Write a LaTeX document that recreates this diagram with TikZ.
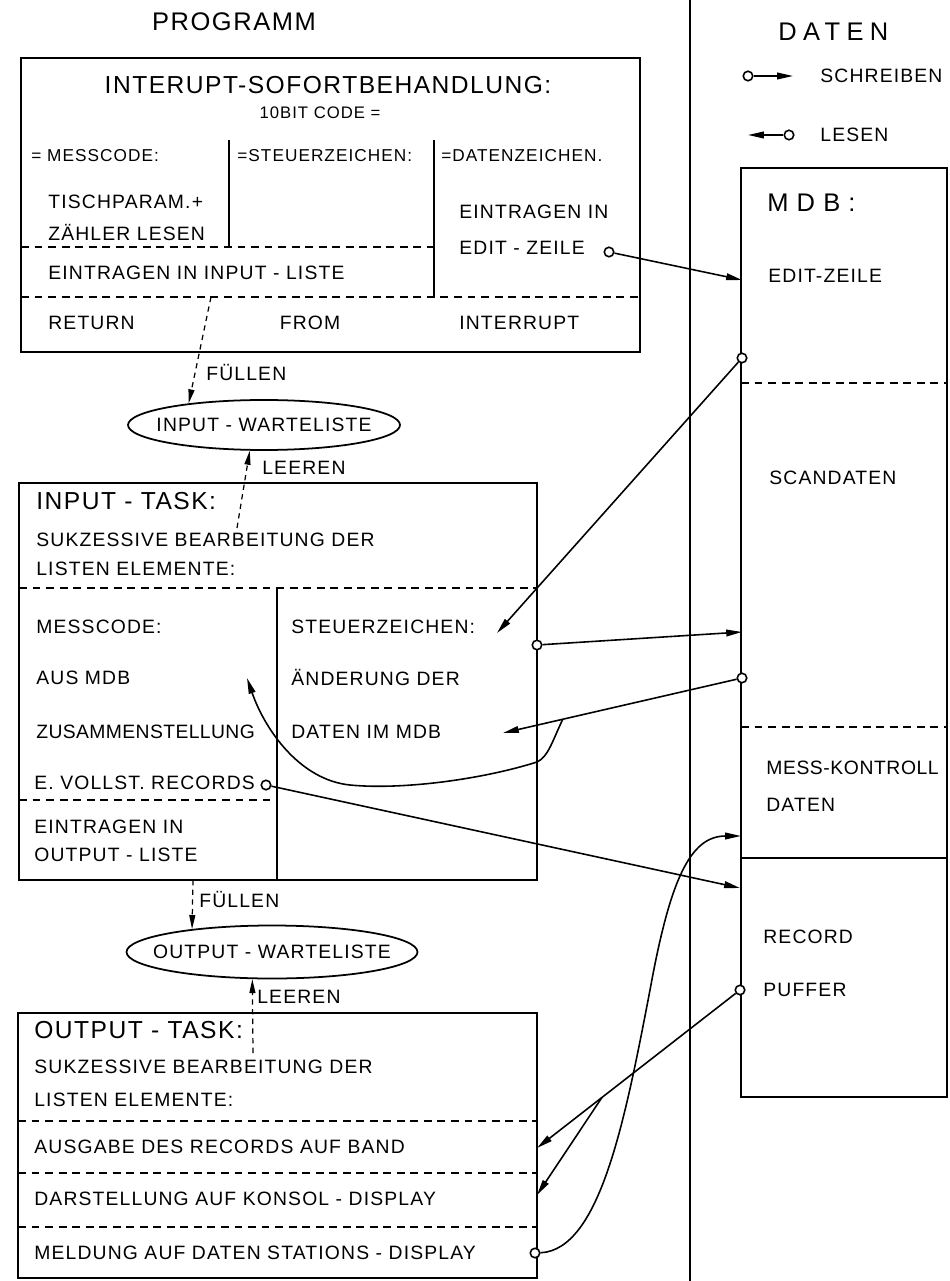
\documentclass[tikz,border=0pt]{standalone}
\usepackage{fontspec}
\setmainfont{Liberation Sans}[LetterSpace=6]
\usetikzlibrary{arrows.meta,calc,shapes}

\begin{document}
\begin{tikzpicture}[x=0.2mm,y=-0.2mm,
    every node/.style={inner sep=0pt},
    txt/.style={anchor=west,font=\fontsize{11}{13}\selectfont},
    txts/.style={anchor=west,font=\fontsize{9.8}{11}\selectfont},
    head/.style={anchor=west,font=\fontsize{14}{16}\selectfont},
    box/.style={line width=1.3pt},
    cut/.style={line width=1pt,dash pattern=on 4.5pt off 3.2pt},
    port/.style={circle,draw,fill=white,line width=0.9pt,minimum size=1.9mm},
    wire/.style={line width=0.9pt,-{Triangle[length=9pt,width=3.8pt]}},
    flow/.style={line width=0.7pt,dash pattern=on 3pt off 2.5pt,-{Triangle[length=8pt,width=3.4pt]}},
    queue/.style={ellipse,draw,line width=1pt}
  ]
    \useasboundingbox (0,0) rectangle (950,1281);
    \draw[line width=1pt] (690,0) -- (690,1281);

    \node[head,anchor=center,font=\fontsize{14.5}{16}\selectfont] (prog) at (234,22) {PROGRAMM};
    \node[head,font=\fontsize{14.5}{16}\selectfont\addfontfeatures{LetterSpace=25}] (daten) at (778,32) {DATEN};

    % legend
    \node[port] (wleg) at (748,76) {};
    \coordinate (wlegE) at (793,76);
    \node[txt] (schr) at (820,76) {SCHREIBEN};
    \node[port] (rleg) at (789,135) {};
    \coordinate (rlegE) at (748,135);
    \node[txt] (les) at (820,135) {LESEN};
    \draw[wire] (wleg) -- (wlegE);
    \draw[wire] (rleg) -- (rlegE);

    % interrupt
    \draw[box] (21,58) rectangle (640,352);
    \draw[box] (229,140) -- (229,247) (434,140) -- (434,297);
    \draw[cut] (21,247) -- (434,247) (21,297) -- (640,297);
    \node[head,anchor=center] (isb) at (328,85) {INTERUPT-SOFORTBEHANDLUNG:};
    \node[anchor=center,font=\fontsize{9.5}{11}\selectfont] (bit) at (320,113) {10BIT CODE =};
    \node[txts] (ms) at (31,156) {= MESSCODE:};
    \node[txts] (sz) at (237,156) {=STEUERZEICHEN:};
    \node[txts] (dz) at (441,156) {=DATENZEICHEN.};
    \node[txt] (tp) at (48,202) {TISCHPARAM.+};
    \node[txt] (zl) at (48,233) {ZÄHLER LESEN};
    \node[txt] (ei) at (459,212) {EINTRAGEN IN};
    \node[txt] (ez) at (459,248) {EDIT - ZEILE};
    \node[txt] (eil) at (48,273) {EINTRAGEN IN INPUT - LISTE};
    \node[txt] (ret) at (48,323) {RETURN};
    \node[txt,anchor=center] (from) at (310,323) {FROM};
    \node[txt] (intr) at (459,323) {INTERRUPT};

    % mdb
    \draw[box] (741,168) rectangle (947,1097);
    \draw[cut] (741,383) -- (947,383) (741,727) -- (947,727);
    \draw[box] (741,858) -- (947,858);
    \node[head,font=\fontsize{14.5}{16}\selectfont\addfontfeatures{LetterSpace=32}] (mdb) at (767,203) {MDB:};
    \node[txt] (mez) at (768,276) {EDIT-ZEILE};
    \node[txt] (scan) at (769,478) {SCANDATEN};
    \node[txt,font=\fontsize{11}{13}\selectfont\addfontfeatures{LetterSpace=3}] (mk) at (766,768) {MESS-KONTROLL};
    \node[txt] (mkd) at (766,805) {DATEN};
    \node[txt] (rec) at (763,937) {RECORD};
    \node[txt] (puf) at (763,990) {PUFFER};

    % input task
    \draw[box] (19,483) rectangle (537,880);
    \draw[cut] (19,588) -- (537,588) (19,800) -- (277,800);
    \draw[box] (277,588) -- (277,880);
    \node[head] (it) at (36,501) {INPUT - TASK:};
    \node[txt] (it1) at (36,540) {SUKZESSIVE BEARBEITUNG DER};
    \node[txt] (it2) at (36,569) {LISTEN ELEMENTE:};
    \node[txt] (im1) at (36,627) {MESSCODE:};
    \node[txt] (im2) at (36,678) {AUS MDB};
    \node[txt,font=\fontsize{11}{13}\selectfont\addfontfeatures{LetterSpace=2}] (im3) at (36,732) {ZUSAMMENSTELLUNG};
    \node[txt] (im4) at (34,783) {E. VOLLST. RECORDS};
    \node[txt] (im5) at (34,827) {EINTRAGEN IN};
    \node[txt] (im6) at (34,855) {OUTPUT - LISTE};
    \node[txt] (is1) at (291,627) {STEUERZEICHEN:};
    \node[txt] (is2) at (291,678) {ÄNDERUNG DER};
    \node[txt] (is3) at (291,732) {DATEN IM MDB};

    % output task
    \draw[box] (18,1013) rectangle (537,1278);
    \draw[cut] (18,1121) -- (537,1121) (18,1173) -- (537,1173) (18,1227) -- (537,1227);
    \node[head] (ot) at (34,1030) {OUTPUT - TASK:};
    \node[txt] (ot1) at (34,1067) {SUKZESSIVE BEARBEITUNG DER};
    \node[txt] (ot2) at (34,1100) {LISTEN ELEMENTE:};
    \node[txt] (ot3) at (34,1147) {AUSGABE DES RECORDS AUF BAND};
    \node[txt] (ot4) at (34,1199) {DARSTELLUNG AUF KONSOL - DISPLAY};
    \node[txt] (ot5) at (34,1253) {MELDUNG AUF DATEN STATIONS - DISPLAY};

    % lists
    \node[queue,minimum width=54.4mm,minimum height=10mm] (inwl) at (264,425) {};
    \node[txt,anchor=center] (inwlt) at (inwl) {INPUT - WARTELISTE};
    \node[queue,minimum width=58.2mm,minimum height=10.6mm] (outwl) at (272,952) {};
    \node[txt,anchor=center] (outwlt) at (outwl) {OUTPUT - WARTELISTE};

    \coordinate (f1) at (211,297);
    \coordinate (l1) at (237,528);
    \coordinate (f2) at (193,880);
    \coordinate (l2) at (253,1053);
    \draw[flow] (f1) -- (inwl.164);
    \draw[flow] (l1) -- (inwl.-119);
    \draw[flow] (f2) -- (outwl.164);
    \draw[flow] (l2) -- (outwl.-126);
    \node[txt] (fuel1) at (206,373) {FÜLLEN};
    \node[txt] (leer1) at (262,468) {LEEREN};
    \node[txt] (fuel2) at (199,899) {FÜLLEN};
    \node[txt] (leer2) at (257,997) {LEEREN};

    % data access
    \coordinate (mEZ) at (742,280);
    \node[port] (mR1) at (742,358) {};
    \coordinate (mSZ) at (742,632);
    \node[port] (mR2) at (742,678) {};
    \coordinate (mMK) at (741,836);
    \coordinate (mRP) at (740,888);
    \node[port] (mR3) at (740,990) {};

    \node[port] (pEZ) at (609,252) {};
    \coordinate (aSZ) at (497,633);
    \node[port] (pSZ) at (537,645) {};
    \coordinate (aDM) at (503,733);
    \coordinate (aAM) at (247,678);
    \node[port] (pVR) at (266,785) {};
    \coordinate (aAB) at (537,1148);
    \coordinate (aKD) at (537,1195);
    \node[port] (pMD) at (535,1253) {};

    \draw[wire] (pEZ) -- (mEZ);
    \draw[wire] (mR1) -- (aSZ);
    \draw[wire] (pSZ) -- (mSZ);
    \draw[wire] (mR2) -- (aDM);
    \coordinate (brD) at ($(mR2)!0.75!(aDM)$);
    \draw[wire] (brD) .. controls (552,742) and (548,757) .. (537,762)
        .. controls (480,780) and (400,790) .. (350,785)
        .. controls (300,780) and (265,730) .. (aAM);
    \draw[wire] (pVR) -- (mRP);
    \draw[wire] (pMD) .. controls (600,1250) and (625,1120) .. (650,990)
        .. controls (670,880) and (690,836) .. (mMK);
    \draw[wire] (mR3) -- (aAB);
    \coordinate (brG) at ($(mR3)!0.68!(aAB)$);
    \draw[wire] (brG) -- (aKD);
\end{tikzpicture}
\end{document}
